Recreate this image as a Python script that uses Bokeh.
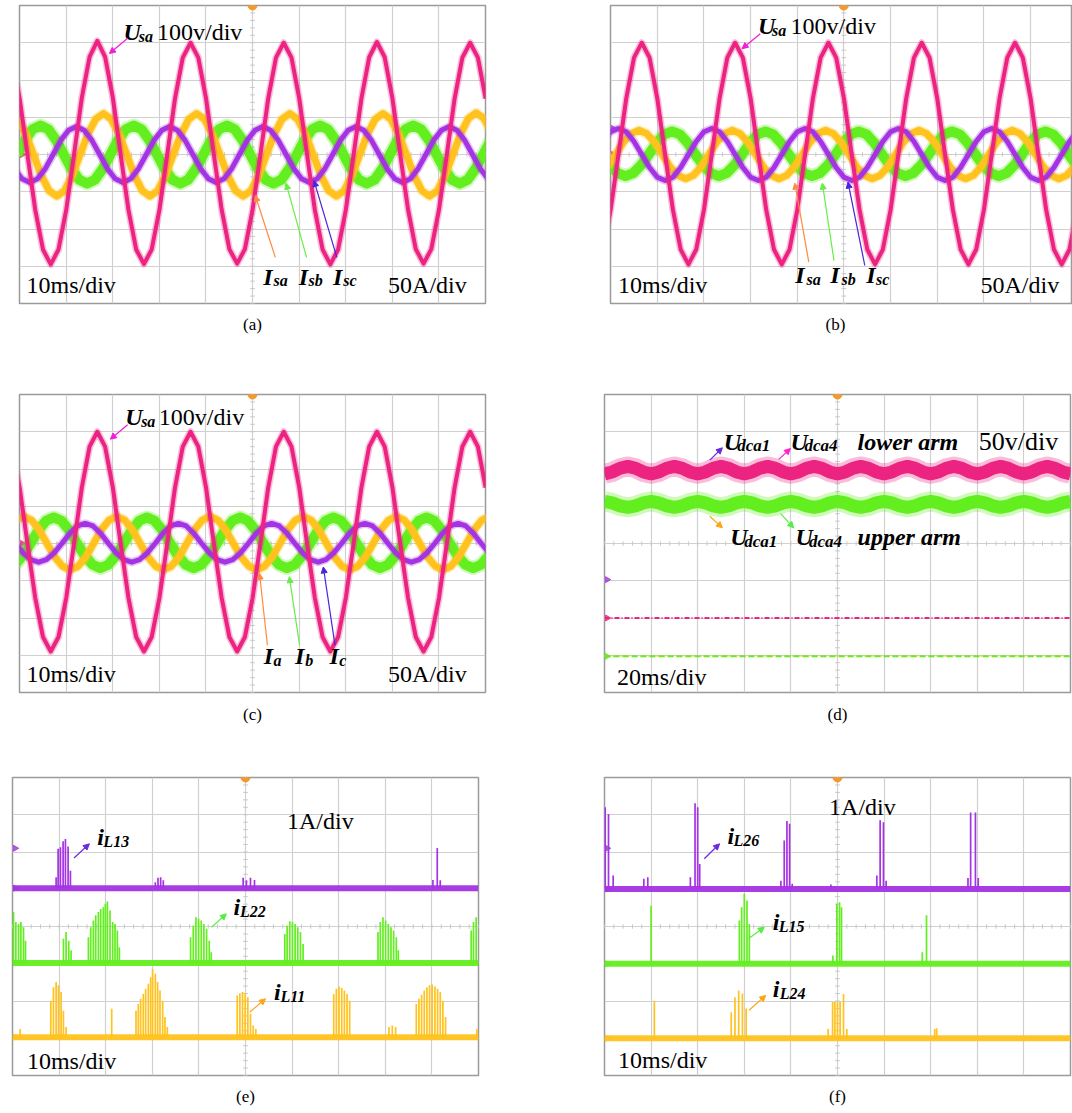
import numpy as np
from bokeh.plotting import figure
from bokeh.layouts import column, row
from bokeh.models import Label, Arrow, NormalHead, FixedTicker, Title
from bokeh.embed import file_html
from bokeh.resources import INLINE

PINK = "#EC2381"
YELLOW = "#FFC21E"
GREEN = "#63EE1F"
PURPLE = "#A433E3"
TRIG = "#F39A2B"
FONT = "Liberation Serif"

# ---------------- data (screen divisions; 1 sample = 1/6 div) ----------------
DT = 1.0 / 6.0

# panel (a)
a_usa_t0 = -0.163
a_usa = [2.60, 1.50, 0.00, -1.48, -2.55, -2.95, -2.55, -1.48, 0.00, 1.52, 2.62, 3.05,
         2.62, 1.52, 0.00, -1.48, -2.55, -2.94, -2.55, -1.48, 0.00, 1.50, 2.60, 3.00,
         2.60, 1.50, 0.00, -1.47, -2.54, -2.93, -2.54, -1.47, 0.00, 1.50, 2.60, 3.00,
         2.60, 1.50, 0.00, -1.48, -2.55, -2.95, -2.55, -1.48, 0.00, 1.50, 2.61, 3.02,
         2.61, 1.50, 0.00, -1.47, -2.54, -2.93, -2.54, -1.47, 0.00, 1.50, 2.60, 3.00,
         2.60, 1.50]
a_isa_t0 = -0.033
a_isa = [0.95, 0.55, 0.00, -0.56, -0.97, -1.12, -0.97, -0.56, 0.00, 0.55, 0.95, 1.10,
         0.95, 0.55, 0.00, -0.56, -0.97, -1.12, -0.97, -0.56, 0.00, 0.55, 0.95, 1.10,
         0.95, 0.55, 0.00, -0.56, -0.97, -1.12, -0.97, -0.56, 0.00, 0.55, 0.95, 1.10,
         0.95, 0.55, 0.00, -0.56, -0.97, -1.12, -0.97, -0.56, 0.00, 0.55, 0.95, 1.10,
         0.95, 0.55, 0.00, -0.56, -0.97, -1.12, -0.97, -0.56, 0.00, 0.56, 0.97, 1.12,
         0.97, 0.56]
a_isb_t0 = -0.05
a_isb = [0.00, 0.39, 0.68, 0.78, 0.68, 0.39, 0.00, -0.39, -0.68, -0.78, -0.68, -0.39,
         0.00, 0.39, 0.68, 0.78, 0.68, 0.39, 0.00, -0.39, -0.68, -0.78, -0.68, -0.39,
         0.00, 0.39, 0.68, 0.78, 0.68, 0.39, 0.00, -0.39, -0.68, -0.78, -0.68, -0.39,
         0.00, 0.39, 0.68, 0.78, 0.68, 0.39, 0.00, -0.39, -0.68, -0.78, -0.68, -0.39,
         0.00, 0.39, 0.68, 0.78, 0.68, 0.39, 0.00, -0.39, -0.68, -0.78, -0.68, -0.39,
         0.00, 0.39]
a_isc_t0 = -0.113
a_isc = [-0.38, -0.65, -0.75, -0.65, -0.38, 0.00, 0.38, 0.65, 0.75, 0.65, 0.38, 0.00,
         -0.38, -0.65, -0.75, -0.65, -0.38, 0.00, 0.38, 0.65, 0.75, 0.65, 0.38, 0.00,
         -0.38, -0.65, -0.75, -0.65, -0.38, 0.00, 0.38, 0.65, 0.75, 0.65, 0.38, 0.00,
         -0.38, -0.65, -0.75, -0.65, -0.38, 0.00, 0.38, 0.65, 0.75, 0.65, 0.38, 0.00,
         -0.38, -0.65, -0.75, -0.65, -0.38, 0.00, 0.38, 0.65, 0.75, 0.65, 0.38, 0.00,
         -0.38, -0.65]

# panel (b)
b_usa_t0 = -0.163
b_usa = [-2.55, -1.48, 0.00, 1.50, 2.60, 3.00, 2.60, 1.50, 0.00, -1.48, -2.55, -2.95,
         -2.55, -1.48, 0.00, 1.50, 2.60, 3.00, 2.60, 1.50, 0.00, -1.48, -2.55, -2.95,
         -2.55, -1.48, 0.00, 1.50, 2.60, 3.00, 2.60, 1.50, 0.00, -1.48, -2.55, -2.95,
         -2.55, -1.48, 0.00, 1.50, 2.60, 3.00, 2.60, 1.50, 0.00, -1.48, -2.55, -2.95,
         -2.55, -1.48, 0.00, 1.50, 2.60, 3.00, 2.60, 1.50, 0.00, -1.48, -2.55, -2.95,
         -2.55, -1.48]
b_isa_t0 = -0.057
b_isa = [-0.33, 0.00, 0.33, 0.56, 0.65, 0.56, 0.33, 0.00, -0.33, -0.56, -0.65, -0.56,
         -0.33, 0.00, 0.33, 0.56, 0.65, 0.56, 0.33, 0.00, -0.33, -0.56, -0.65, -0.56,
         -0.33, 0.00, 0.33, 0.56, 0.65, 0.56, 0.33, 0.00, -0.33, -0.56, -0.65, -0.56,
         -0.33, 0.00, 0.33, 0.56, 0.65, 0.56, 0.33, 0.00, -0.33, -0.56, -0.65, -0.56,
         -0.33, 0.00, 0.33, 0.56, 0.65, 0.56, 0.33, 0.00, -0.33, -0.56, -0.65, -0.56,
         -0.33]
b_isb_t0 = -0.013
b_isb = [-0.29, -0.50, -0.58, -0.50, -0.29, 0.00, 0.31, 0.54, 0.62, 0.54, 0.31, 0.00,
         -0.29, -0.50, -0.58, -0.50, -0.29, 0.00, 0.31, 0.54, 0.62, 0.54, 0.31, 0.00,
         -0.29, -0.50, -0.58, -0.50, -0.29, 0.00, 0.31, 0.54, 0.62, 0.54, 0.31, 0.00,
         -0.29, -0.50, -0.58, -0.50, -0.29, 0.00, 0.31, 0.54, 0.62, 0.54, 0.31, 0.00,
         -0.29, -0.50, -0.58, -0.50, -0.29, 0.00, 0.31, 0.54, 0.62, 0.54, 0.31, 0.00,
         -0.29]
b_isc_t0 = -0.163
b_isc = [0.35, 0.61, 0.70, 0.61, 0.35, 0.00, -0.35, -0.61, -0.70, -0.61, -0.35, 0.00,
         0.35, 0.61, 0.70, 0.61, 0.35, 0.00, -0.35, -0.61, -0.70, -0.61, -0.35, 0.00,
         0.35, 0.61, 0.70, 0.61, 0.35, 0.00, -0.35, -0.61, -0.70, -0.61, -0.35, 0.00,
         0.35, 0.61, 0.70, 0.61, 0.35, 0.00, -0.35, -0.61, -0.70, -0.61, -0.35, 0.00,
         0.35, 0.61, 0.70, 0.61, 0.35, 0.00, -0.35, -0.61, -0.70, -0.61, -0.35, 0.00,
         0.35, 0.61]

# panel (c)
c_usa_t0 = -0.163
c_usa = [2.60, 1.50, 0.00, -1.45, -2.51, -2.90, -2.51, -1.45, 0.00, 1.50, 2.60, 3.00,
         2.60, 1.50, 0.00, -1.45, -2.51, -2.90, -2.51, -1.45, 0.00, 1.50, 2.60, 3.00,
         2.60, 1.50, 0.00, -1.45, -2.51, -2.90, -2.51, -1.45, 0.00, 1.50, 2.60, 3.00,
         2.60, 1.50, 0.00, -1.45, -2.51, -2.90, -2.51, -1.45, 0.00, 1.50, 2.60, 3.00,
         2.60, 1.50, 0.00, -1.45, -2.51, -2.90, -2.51, -1.45, 0.00, 1.50, 2.60, 3.00,
         2.60, 1.50]
c_ia_t0 = -0.077
c_ia = [0.63, 0.73, 0.63, 0.37, 0.00, -0.36, -0.61, -0.71, -0.61, -0.36, 0.00, 0.37,
        0.63, 0.73, 0.63, 0.37, 0.00, -0.36, -0.61, -0.71, -0.61, -0.36, 0.00, 0.37,
        0.63, 0.73, 0.63, 0.37, 0.00, -0.36, -0.61, -0.71, -0.61, -0.36, 0.00, 0.37,
        0.63, 0.73, 0.63, 0.37, 0.00, -0.36, -0.61, -0.71, -0.61, -0.36, 0.00, 0.37,
        0.63, 0.73, 0.63, 0.37, 0.00, -0.36, -0.61, -0.71, -0.61, -0.36, 0.00, 0.37,
        0.63, 0.73]
c_ib_t0 = -0.098
c_ib = [-0.57, -0.33, 0.00, 0.35, 0.61, 0.70, 0.61, 0.35, 0.00, -0.33, -0.57, -0.66,
        -0.57, -0.33, 0.00, 0.35, 0.61, 0.70, 0.61, 0.35, 0.00, -0.33, -0.57, -0.66,
        -0.57, -0.33, 0.00, 0.35, 0.61, 0.70, 0.61, 0.35, 0.00, -0.33, -0.57, -0.66,
        -0.57, -0.33, 0.00, 0.35, 0.61, 0.70, 0.61, 0.35, 0.00, -0.33, -0.57, -0.66,
        -0.57, -0.33, 0.00, 0.35, 0.61, 0.70, 0.61, 0.35, 0.00, -0.33, -0.57, -0.66,
        -0.57, -0.33]
c_ic_t0 = -0.09
c_ic = [0.00, -0.25, -0.43, -0.50, -0.43, -0.25, 0.00, 0.27, 0.47, 0.54, 0.47, 0.27,
        0.00, -0.25, -0.43, -0.50, -0.43, -0.25, 0.00, 0.27, 0.47, 0.54, 0.47, 0.27,
        0.00, -0.25, -0.43, -0.50, -0.43, -0.25, 0.00, 0.27, 0.47, 0.54, 0.47, 0.27,
        0.00, -0.25, -0.43, -0.50, -0.43, -0.25, 0.00, 0.27, 0.47, 0.54, 0.47, 0.27,
        0.00, -0.25, -0.43, -0.50, -0.43, -0.25, 0.00, 0.27, 0.47, 0.54, 0.47, 0.27,
        0.00, -0.25]

# panel (d): capacitor voltages, 20 ms/div (50 Hz ripple = 1 div)
d_lower_t0 = 0.0
d_lower = [1.87, 1.92, 2.02, 2.07, 2.02, 1.92, 1.87, 1.92, 2.02, 2.07, 2.02, 1.92,
           1.87, 1.92, 2.02, 2.07, 2.02, 1.92, 1.87, 1.92, 2.02, 2.07, 2.02, 1.92,
           1.87, 1.92, 2.02, 2.07, 2.02, 1.92, 1.87, 1.92, 2.02, 2.07, 2.02, 1.92,
           1.87, 1.92, 2.02, 2.07, 2.02, 1.92, 1.87, 1.92, 2.02, 2.07, 2.02, 1.92,
           1.87, 1.92, 2.02, 2.07, 2.02, 1.92, 1.87, 1.92, 2.02, 2.07, 2.02, 1.92,
           1.87]
d_upper_t0 = 0.0
d_upper = [1.13, 1.09, 1.01, 0.97, 1.01, 1.09, 1.13, 1.09, 1.01, 0.97, 1.01, 1.09,
           1.13, 1.09, 1.01, 0.97, 1.01, 1.09, 1.13, 1.09, 1.01, 0.97, 1.01, 1.09,
           1.13, 1.09, 1.01, 0.97, 1.01, 1.09, 1.13, 1.09, 1.01, 0.97, 1.01, 1.09,
           1.13, 1.09, 1.01, 0.97, 1.01, 1.09, 1.13, 1.09, 1.01, 0.97, 1.01, 1.09,
           1.13, 1.09, 1.01, 0.97, 1.01, 1.09, 1.13, 1.09, 1.01, 0.97, 1.01, 1.09,
           1.13]
d_ref_levels = [-2.0, -3.03]

# panel (e): arm currents (baseline level, spike positions and tops)
e_base = [1.03, -0.98, -2.97]
e_l13_x = [0.936, 0.979, 1.029, 1.086, 1.136, 1.193, 1.243, 3.065, 3.122, 3.179, 3.236,
           4.95, 5.02, 5.107, 5.193, 9.022, 9.115, 9.179]
e_l13_y = [1.32, 2.09, 2.13, 2.29, 2.35, 2.15, 1.50, 1.19, 1.31, 1.32, 1.24,
           1.31, 1.24, 1.31, 1.25, 1.25, 2.11, 1.24]
e_l22_x = [0.022, 0.072, 0.129, 0.179, 0.236, 0.279, 1.093, 1.15, 1.207, 1.257,
           1.629, 1.679, 1.736, 1.786, 1.843, 1.893, 1.95, 1.993, 2.036, 2.093, 2.15, 2.2, 2.25, 2.293,
           3.822, 3.879, 3.936, 3.993, 4.05, 4.107, 4.165, 4.222, 4.265,
           5.843, 5.893, 5.95, 6.007, 6.065, 6.122, 6.179, 6.236,
           7.843, 7.893, 7.95, 8.007, 8.065, 8.122, 8.179, 8.236, 8.279,
           9.843, 9.893, 9.95]
e_l22_y = [0.39, 0.12, 0.07, 0.12, -0.02, -0.38, -0.33, -0.15, -0.38, -0.64,
           -0.29, -0.02, 0.16, 0.30, 0.39, 0.47, 0.52, 0.61, 0.67, 0.43, 0.12, 0.07, -0.11, -0.56,
           -0.29, 0.03, 0.25, 0.21, 0.16, 0.07, -0.06, -0.38, -0.69,
           -0.20, 0.03, 0.14, 0.12, 0.07, -0.02, -0.15, -0.47,
           -0.15, 0.12, 0.25, 0.16, 0.07, -0.02, -0.11, -0.29, -0.64,
           -0.11, 0.12, 0.25]
e_l11_x = [0.165, 0.822, 0.879, 0.936, 0.986, 1.043, 1.093, 1.15, 2.129,
           2.65, 2.7, 2.75, 2.807, 2.857, 2.915, 2.965, 3.007, 3.065, 3.115, 3.165, 3.222, 3.272, 3.322,
           4.822, 4.879, 4.936, 4.993, 5.05, 5.107, 5.165, 5.222,
           6.893, 6.95, 7.007, 7.065, 7.122, 7.179, 7.236,
           8.079, 8.15, 8.222,
           8.665, 8.722, 8.779, 8.836, 8.893, 8.95, 9.007, 9.065, 9.122, 9.179, 9.236, 9.293, 9.965]
e_l11_y = [-2.75, -1.99, -1.63, -1.49, -1.58, -1.76, -2.26, -2.70, -2.21,
           -2.26, -2.08, -1.94, -1.81, -1.67, -1.54, -1.36, -1.14, -1.27, -1.49, -1.72, -1.99, -2.43, -2.70,
           -1.85, -1.79, -1.76, -1.79, -1.90, -2.34, -2.66, -2.75,
           -1.81, -1.67, -1.61, -1.65, -1.72, -1.81, -1.99,
           -2.70, -2.66, -2.70,
           -2.08, -1.94, -1.83, -1.72, -1.63, -1.58, -1.56, -1.61, -1.67, -1.76, -1.99, -2.43, -2.75]

# panel (f)
f_base = [1.01, -1.0, -3.0]
f_l26_x = [0.015, 0.086, 0.186, 0.844, 0.929, 1.843, 1.943, 2.0, 2.043,
           3.786, 3.857, 3.915, 3.972, 4.029, 4.858, 4.929,
           5.844, 5.915, 5.986, 6.044, 7.80, 7.857, 7.96, 8.02]
f_l26_y = [3.20, 3.02, 1.37, 1.28, 1.32, 1.32, 3.31, 3.20, 1.68,
           1.23, 2.31, 2.83, 2.76, 1.15, 1.13, 1.07,
           1.37, 2.85, 2.80, 1.23, 1.30, 3.06, 3.06, 1.30]
f_l15_x = [1.0, 2.894, 2.944, 3.0, 3.058, 3.108, 4.90, 4.986, 5.044, 5.086, 6.82, 6.91]
f_l15_y = [0.56, 0.16, 0.52, 0.88, 0.70, 0.07, -0.78, 0.61, 0.65, 0.52, -0.69, 0.30]
f_l24_x = [1.07, 2.72, 2.80, 2.88, 2.96, 3.04, 4.80, 4.895, 4.944, 5.0, 5.056, 5.129, 5.2, 7.086, 7.129]
f_l24_y = [-1.99, -2.30, -1.90, -1.72, -1.80, -2.20, -2.75, -2.03, -2.03, -2.03, -2.03, -1.81, -2.75,
           -2.75, -2.73]

# channel / trigger level markers on the left edge of each screen
a_marks = [(0.70, PURPLE), (0.0, PINK)]
b_marks = [(0.70, PURPLE), (0.0, PINK)]
c_marks = [(0.70, PURPLE), (0.0, PINK)]
d_marks = [(-0.97, PURPLE), (-2.0, PINK), (-3.03, GREEN)]
e_marks = [(2.10, PURPLE), (1.03, PURPLE), (-0.98, GREEN), (-2.97, YELLOW)]
f_marks = [(2.10, PURPLE), (1.01, PURPLE), (-1.0, GREEN), (-3.0, YELLOW)]

X_TICKS = [0, 1, 2, 3, 4, 5, 6, 7, 8, 9, 10]
Y_TICKS = [-4, -3, -2, -1, 0, 1, 2, 3, 4]


# ---------------- helpers ----------------
def scope(fw, fh, xmax, bl, br, bt, bb, cap, cap_standoff, marks, cap_align="center", cap_offset=0):
    p = figure(frame_width=fw, frame_height=fh, x_range=(0, xmax), y_range=(-4, 4),
               min_border_left=bl, min_border_right=br, min_border_top=bt, min_border_bottom=bb,
               x_axis_location=None, y_axis_location=None, toolbar_location=None,
               output_backend="svg", title=None)
    p.background_fill_color = "white"
    p.border_fill_color = "white"
    p.outline_line_color = "#9a9a9a"
    p.outline_line_width = 1.5
    p.xgrid.ticker = FixedTicker(ticks=X_TICKS)
    p.ygrid.ticker = FixedTicker(ticks=Y_TICKS)
    p.xgrid.grid_line_color = "#d0d0d0"
    p.ygrid.grid_line_color = "#d0d0d0"
    p.xgrid.grid_line_width = 1.2
    p.ygrid.grid_line_width = 1.2
    # small graticule ticks on the centre lines
    mt = np.arange(0, 10.01, 0.2)
    p.segment(x0=mt, y0=-0.06, x1=mt, y1=0.06, line_color="#c8c8c8", line_width=1)
    mv = np.arange(-4, 4.01, 0.2)
    p.segment(x0=4.95, y0=mv, x1=5.05, y1=mv, line_color="#c8c8c8", line_width=1)
    p.scatter([5], [4], marker="circle", size=9, color=TRIG)
    my = [m[0] for m in marks]
    mc = [m[1] for m in marks]
    p.scatter([0.06] * len(my), my, marker="triangle", angle=-np.pi / 2, size=6,
              color=mc, alpha=0.8)
    p.add_layout(Title(text=cap, align=cap_align, text_font=FONT, text_font_size="17px",
                       text_font_style="normal", text_color="black",
                       standoff=cap_standoff, offset=cap_offset), "below")
    return p


def wave(p, t0, vals, color, w, fuzz):
    x = t0 + DT * np.arange(len(vals))
    p.line(x, vals, line_color=color, line_width=fuzz, line_alpha=0.3, line_join="round")
    p.line(x, vals, line_color=color, line_width=w, line_join="round")


def spikes(p, xs, ys, base, color):
    p.segment(x0=xs, y0=[base] * len(xs), x1=xs, y1=ys, line_color=color, line_width=1.7)


def baseline(p, level, color, xmax=10):
    p.line([0, xmax], [level, level], line_color=color, line_width=6, line_alpha=0.95)


def txt(p, x, y, s, size=24, style="normal", align="left"):
    # small upward nudge: the SVG text sits slightly below the requested baseline
    p.add_layout(Label(x=x, y=y, text=s, text_font=FONT, text_font_size=f"{size}px",
                       text_font_style=style, text_color="black", text_align=align,
                       text_baseline="alphabetic", y_offset=round(0.35 * size)))


def sym(p, x, y, main, xs, ys, sub, size=24, subsize=16):
    txt(p, x, y, main, size=size, style="bold italic")
    txt(p, xs, ys, sub, size=subsize, style="bold italic")


def arrow(p, x0, y0, x1, y1, color):
    p.add_layout(Arrow(end=NormalHead(size=6, line_color=color, fill_color=color, line_width=1),
                       x_start=x0, y_start=y0, x_end=x1, y_end=y1,
                       line_color=color, line_width=1.2))


# ---------------- panel (a) ----------------
fa = scope(466, 298, 10, 19, 62, 5, 90, "(a)", 18, a_marks)
wave(fa, a_isb_t0, a_isb, GREEN, 10, 14)
wave(fa, a_isa_t0, a_isa, YELLOW, 7, 10)
wave(fa, a_isc_t0, a_isc, PURPLE, 5, 8)
wave(fa, a_usa_t0, a_usa, PINK, 4, 7)
sym(fa, 2.23, 3.08, "U", 2.56, 3.02, "sa")
txt(fa, 2.95, 3.08, "100v/div")
arrow(fa, 2.32, 3.12, 1.93, 2.71, "#F01ED8")
txt(fa, 0.15, -3.72, "10ms/div")
txt(fa, 7.91, -3.72, "50A/div")
sym(fa, 5.23, -3.49, "I", 5.45, -3.55, "sa")
sym(fa, 5.99, -3.49, "I", 6.20, -3.55, "sb")
sym(fa, 6.73, -3.49, "I", 6.95, -3.55, "sc")
arrow(fa, 5.49, -2.76, 5.06, -1.10, "#FF8A3D")
arrow(fa, 6.16, -2.76, 5.72, -0.77, "#66EE44")
arrow(fa, 6.81, -2.76, 6.32, -0.70, "#4A22E0")

# ---------------- panel (b) ----------------
fb = scope(461, 298, 9.88, 63, 1, 5, 90, "(b)", 18, b_marks, cap_align="left", cap_offset=215)
wave(fb, b_isb_t0, b_isb, GREEN, 10, 14)
wave(fb, b_isa_t0, b_isa, YELLOW, 7, 10)
wave(fb, b_isc_t0, b_isc, PURPLE, 5, 8)
wave(fb, b_usa_t0, b_usa, PINK, 4, 7)
sym(fb, 3.16, 3.24, "U", 3.46, 3.18, "sa")
txt(fb, 3.86, 3.24, "100v/div")
arrow(fb, 3.21, 3.24, 2.82, 2.84, "#F01ED8")
txt(fb, 0.16, -3.72, "10ms/div")
txt(fb, 7.93, -3.72, "50A/div")
sym(fb, 3.96, -3.45, "I", 4.20, -3.52, "sa")
sym(fb, 4.71, -3.45, "I", 4.95, -3.52, "sb")
sym(fb, 5.48, -3.45, "I", 5.69, -3.52, "sc")
arrow(fb, 4.25, -2.89, 3.95, -0.77, "#FF8A3D")
arrow(fb, 4.79, -2.85, 4.54, -0.77, "#66EE44")
arrow(fb, 5.45, -2.98, 5.09, -0.74, "#4A22E0")

# ---------------- panel (c) ----------------
fc = scope(466, 298, 10, 19, 62, 1, 84, "(c)", 20, c_marks)
wave(fc, c_ib_t0, c_ib, GREEN, 10, 14)
wave(fc, c_ia_t0, c_ia, YELLOW, 7, 10)
wave(fc, c_ic_t0, c_ic, PURPLE, 5, 8)
wave(fc, c_usa_t0, c_usa, PINK, 4, 7)
sym(fc, 2.27, 3.17, "U", 2.61, 3.11, "sa")
txt(fc, 2.99, 3.17, "100v/div")
arrow(fc, 2.32, 3.19, 1.95, 2.80, "#F01ED8")
txt(fc, 0.15, -3.71, "10ms/div")
txt(fc, 7.91, -3.71, "50A/div")
sym(fc, 5.24, -3.24, "I", 5.45, -3.31, "a")
sym(fc, 5.91, -3.24, "I", 6.13, -3.31, "b")
sym(fc, 6.65, -3.24, "I", 6.86, -3.31, "c")
arrow(fc, 5.32, -2.73, 5.15, -0.80, "#FF8A3D")
arrow(fc, 6.01, -2.73, 5.79, -0.89, "#66EE44")
arrow(fc, 6.77, -2.73, 6.52, -0.63, "#4A22E0")

# ---------------- panel (d) ----------------
fd = scope(466, 298, 10, 57, 2, 1, 84, "(d)", 20, d_marks)
x_ref = [0, 10]
fd.line(x_ref, [d_ref_levels[0]] * 2, line_color=PINK, line_width=2, line_dash="5 2 1 2")
fd.line(x_ref, [d_ref_levels[1]] * 2, line_color=YELLOW, line_width=2, line_dash="1 3")
fd.line(x_ref, [d_ref_levels[1]] * 2, line_color=GREEN, line_width=2, line_dash="6 3")
wave(fd, d_upper_t0, d_upper, GREEN, 13, 20)
wave(fd, d_lower_t0, d_lower, PINK, 13, 20)
sym(fd, 2.56, 2.51, "U", 2.85, 2.46, "dca1", subsize=17)
sym(fd, 3.99, 2.51, "U", 4.29, 2.46, "dca4", subsize=17)
txt(fd, 5.43, 2.50, "lower arm", style="bold italic")
txt(fd, 8.03, 2.50, "50v/div", size=26)
arrow(fd, 2.26, 2.24, 2.53, 2.57, "#6A2BE0")
arrow(fd, 3.74, 2.26, 3.99, 2.55, "#FF22CC")
sym(fd, 2.70, -0.05, "U", 3.00, -0.10, "dca1", subsize=17)
sym(fd, 4.10, -0.05, "U", 4.39, -0.10, "dca4", subsize=17)
txt(fd, 5.43, -0.05, "upper arm", style="bold italic")
arrow(fd, 2.26, 0.73, 2.53, 0.42, "#FFA515")
arrow(fd, 3.78, 0.80, 4.06, 0.42, "#55EE44")
txt(fd, 0.27, -3.80, "20ms/div")

# ---------------- panel (e) ----------------
fe = scope(466, 298, 10, 12, 69, 1, 35, "(e)", 19, e_marks)
baseline(fe, e_base[0], PURPLE)
baseline(fe, e_base[1], GREEN)
baseline(fe, e_base[2], YELLOW)
spikes(fe, e_l13_x, e_l13_y, e_base[0], PURPLE)
spikes(fe, e_l22_x, e_l22_y, e_base[1], GREEN)
spikes(fe, e_l11_x, e_l11_y, e_base[2], YELLOW)
sym(fe, 1.82, 2.20, "i", 1.95, 2.11, "L13")
arrow(fe, 1.32, 1.84, 1.65, 2.22, "#6A2BE0")
txt(fe, 5.89, 2.62, "1A/div")
sym(fe, 4.74, 0.31, "i", 4.88, 0.25, "L22")
arrow(fe, 4.27, -0.02, 4.59, 0.34, "#55EE44")
sym(fe, 5.61, -1.97, "i", 5.75, -2.03, "L11")
arrow(fe, 5.09, -2.30, 5.43, -1.94, "#FFA515")
txt(fe, 0.31, -3.82, "10ms/div")

# ---------------- panel (f) ----------------
ff = scope(466, 298, 10, 57, 2, 1, 35, "(f)", 19, f_marks)
baseline(ff, f_base[0], PURPLE)
baseline(ff, f_base[1], GREEN)
baseline(ff, f_base[2], YELLOW)
spikes(ff, f_l26_x, f_l26_y, f_base[0], PURPLE)
spikes(ff, f_l15_x, f_l15_y, f_base[1], GREEN)
spikes(ff, f_l24_x, f_l24_y, f_base[2], YELLOW)
sym(ff, 2.64, 2.22, "i", 2.77, 2.15, "L26")
arrow(ff, 2.14, 1.82, 2.47, 2.22, "#6A2BE0")
txt(ff, 4.82, 2.98, "1A/div")
sym(ff, 3.61, -0.09, "i", 3.74, -0.15, "L15")
arrow(ff, 3.11, -0.31, 3.43, -0.02, "#55EE44")
sym(ff, 3.61, -1.90, "i", 3.76, -1.96, "L24")
arrow(ff, 3.10, -2.25, 3.46, -1.85, "#FFA515")
txt(ff, 0.29, -3.81, "10ms/div")

layout = column(row(fa, fb), row(fc, fd), row(fe, ff))
open("out.html", "w").write(file_html(layout, INLINE))
